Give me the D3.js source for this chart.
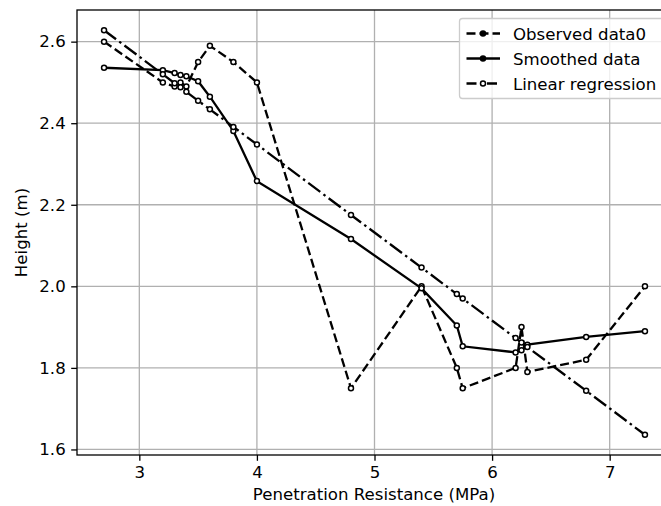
<!DOCTYPE html>
<html>
<head>
<meta charset="utf-8">
<script src="https://cdn.jsdelivr.net/npm/d3@7"></script>
<style>
  body { margin: 0; background: #fff; }
  text { font-family: "DejaVu Sans", sans-serif; }
</style>
</head>
<body>
<div id="chart"><svg></svg></div>
<script>
const width = 661;
const height = 506;

// data
const resistance = [2.7, 3.2, 3.3, 3.35, 3.4, 3.5, 3.6, 3.8, 4.0, 4.8, 5.4, 5.7, 5.75, 6.2, 6.25, 6.3, 6.8, 7.3];
const observed   = [2.60, 2.50, 2.49, 2.50, 2.49, 2.55, 2.59, 2.55, 2.50, 1.75, 2.00, 1.80, 1.75, 1.80, 1.90, 1.79, 1.82, 2.00];
const smoothed   = [2.536, 2.530, 2.523, 2.518, 2.515, 2.503, 2.465, 2.381, 2.258, 2.116, 1.995, 1.904, 1.853, 1.838, 1.843, 1.857, 1.876, 1.890];
const regression = [2.628, 2.520, 2.498, 2.488, 2.477, 2.455, 2.434, 2.391, 2.348, 2.175, 2.046, 1.981, 1.970, 1.873, 1.862, 1.851, 1.744, 1.636];

const xTicks = [3, 4, 5, 6, 7];
const yTicks = [1.6, 1.8, 2.0, 2.2, 2.4, 2.6];

const seriesNames = ["Observed data0", "Smoothed data", "Linear regression"];

const fontSize = 16.6;

const svg = d3.select('#chart').select('svg')
    .attr('width', width)
    .attr('height', height);

// plot area (right side runs past the picture edge, as in the original)
const pLeft = 77, pRight = 672, pTop = 10, pBottom = 455;

const x = d3.scaleLinear().domain([2.47, 7.53]).range([pLeft, pRight]);
const y = d3.scaleLinear().domain([1.5864, 2.6776]).range([pBottom, pTop]);

// grid
const grid = svg.append('g');
grid.selectAll('line.vx')
    .data(xTicks)
    .join('line')
    .attr('class', 'vx')
    .attr('x1', d => x(d)).attr('x2', d => x(d))
    .attr('y1', pTop).attr('y2', pBottom)
    .attr('stroke', '#b0b0b0').attr('stroke-width', 1.3);
grid.selectAll('line.hy')
    .data(yTicks)
    .join('line')
    .attr('class', 'hy')
    .attr('x1', pLeft).attr('x2', pRight)
    .attr('y1', d => y(d)).attr('y2', d => y(d))
    .attr('stroke', '#b0b0b0').attr('stroke-width', 1.3);

// axes
const xAxis = d3.axisBottom(x).tickValues(xTicks).tickFormat(d3.format('d')).tickSize(5.8).tickPadding(5.5);
const yAxis = d3.axisLeft(y).tickValues(yTicks).tickFormat(d3.format('.1f')).tickSize(5.8).tickPadding(5.5);

const gx = svg.append('g').attr('transform', `translate(0,${pBottom})`).call(xAxis);
const gy = svg.append('g').attr('transform', `translate(${pLeft},0)`).call(yAxis);
[gx, gy].forEach(g => {
    g.select('.domain').remove();
    g.selectAll('line').attr('stroke', '#000').attr('stroke-width', 1.3);
    g.selectAll('text').attr('font-size', fontSize).attr('fill', '#000')
        .style('font-family', '"DejaVu Sans", sans-serif');
});

// spines
svg.append('rect')
    .attr('x', pLeft).attr('y', pTop)
    .attr('width', pRight - pLeft).attr('height', pBottom - pTop)
    .attr('fill', 'none').attr('stroke', '#000').attr('stroke-width', 1.3);

// axis titles
svg.append('text')
    .attr('x', 374).attr('y', 500)
    .attr('text-anchor', 'middle').attr('font-size', fontSize)
    .text('Penetration Resistance (MPa)');
svg.append('text')
    .attr('transform', `translate(27,${(pTop + pBottom) / 2}) rotate(-90)`)
    .attr('text-anchor', 'middle').attr('font-size', fontSize)
    .text('Height (m)');

// series
const styles = [
    {values: observed,   dash: '9,4'},
    {values: smoothed,   dash: null},
    {values: regression, dash: '15,4,2.5,4'}
];

const line = d3.line()
    .x(d => x(d[0]))
    .y(d => y(d[1]));

const plot = svg.append('g');
styles.forEach(function(s, k) {
    const pts = resistance.map((r, i) => [r, s.values[i]]);
    plot.append('path')
        .datum(pts)
        .attr('d', line)
        .attr('fill', 'none')
        .attr('stroke', '#000')
        .attr('stroke-width', 2.3)
        .attr('stroke-dasharray', s.dash);
    plot.selectAll('circle.s' + k)
        .data(pts)
        .join('circle')
        .attr('class', 's' + k)
        .attr('cx', d => x(d[0]))
        .attr('cy', d => y(d[1]))
        .attr('r', 2.5)
        .attr('fill', '#fff')
        .attr('stroke', '#000')
        .attr('stroke-width', 1.5);
});

// legend
const lg = svg.append('g');
lg.append('rect')
    .attr('x', 459.5).attr('y', 18.5)
    .attr('width', 206).attr('height', 80)
    .attr('rx', 3)
    .attr('fill', '#fff').attr('fill-opacity', 0.8)
    .attr('stroke', '#cccccc').attr('stroke-width', 1.3);

const legendFill = ['#000', '#000', '#fff'];
seriesNames.forEach(function(name, i) {
    const ly = 33.5 + i * 25;
    lg.append('line')
        .attr('x1', 466.5).attr('x2', 500)
        .attr('y1', ly).attr('y2', ly)
        .attr('stroke', '#000').attr('stroke-width', 2.3)
        .attr('stroke-dasharray', styles[i].dash ? (i === 0 ? '9,4' : '10,4,2.5,4') : null);
    lg.append('circle')
        .attr('cx', 483).attr('cy', ly).attr('r', 2.5)
        .attr('fill', legendFill[i]).attr('stroke', '#000').attr('stroke-width', 1.5);
    lg.append('text')
        .attr('x', 513).attr('y', ly + 6)
        .attr('font-size', fontSize)
        .text(name);
});
</script>
</body>
</html>
